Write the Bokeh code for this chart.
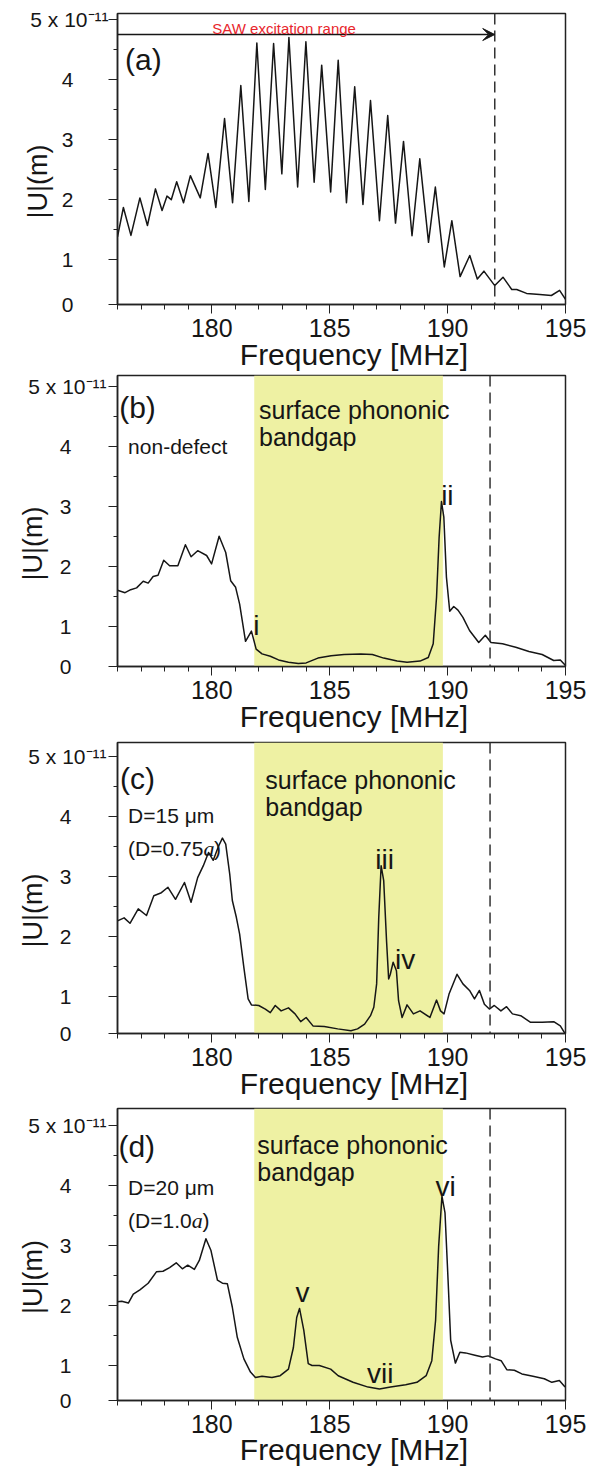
import math
from bokeh.plotting import figure
from bokeh.models import Range1d, FixedTicker, Label, Span, BoxAnnotation, Arrow, VeeHead
from bokeh.layouts import column
from bokeh.embed import file_html
from bokeh.resources import INLINE

SANS = "Liberation Sans"
SERIF = "Liberation Serif"
INK = "#161616"
FRAME = "#222222"
BAND = "#eef1a3"
RED = "#e8262d"
NB = "\u00a0"

# ---------------- data ----------------
x_start, x_end = 176, 195
x_major = [180, 185, 190, 195]
x_minor = list(range(176, 196))
y_major = [1, 2, 3, 4, 5]
y_minor = [1.5, 2.5, 3.5, 4.5]
y_top_label = "5 x 10\u207b\u00b9\u00b9"
x_title = "Frequency [MHz]"
y_title = "|U|(m)"

saw_limit_a = 192.0          # end of SAW excitation range (panel a)
saw_limit = 191.8            # dashed line, panels b-d
band_lo, band_hi = 181.8, 189.8   # surface phononic bandgap

freq_a = [176.0, 176.25, 176.57, 176.95, 177.27, 177.61, 177.89, 178.1, 178.28, 178.51,
          178.8, 179.09, 179.51, 179.84, 180.17, 180.54, 180.88, 181.23, 181.57, 181.91,
          182.27, 182.62, 182.97, 183.27, 183.64, 183.99, 184.34, 184.66, 185.04, 185.36,
          185.71, 186.06, 186.41, 186.73, 187.11, 187.46, 187.79, 188.13, 188.49, 188.82,
          189.19, 189.48, 189.86, 190.18, 190.53, 190.94, 191.26, 191.54, 192.0, 192.35,
          192.72, 192.93, 193.35, 193.91, 194.4, 194.75, 195.0]
amp_a = [1.38, 1.87, 1.405, 2.03, 1.57, 2.18, 1.82, 2.06, 2.0, 2.30,
         1.95, 2.40, 2.03, 2.77, 1.87, 3.35, 1.95, 3.90, 1.97, 4.61,
         2.17, 4.60, 2.43, 4.70, 2.21, 4.63, 2.29, 4.24, 2.13, 4.32,
         1.95, 3.88, 1.92, 3.65, 1.65, 3.40, 1.61, 2.97, 1.40, 2.68,
         1.29, 2.21, 0.88, 1.65, 0.72, 1.07, 0.68, 0.81, 0.57, 0.71,
         0.505, 0.505, 0.44, 0.42, 0.405, 0.49, 0.34]

freq_b = [176.0, 176.32, 176.56, 176.81, 177.09, 177.3, 177.51, 177.72, 177.96, 178.21,
          178.56, 178.88, 179.12, 179.4, 179.78, 179.99, 180.31, 180.59, 180.8, 181.01,
          181.18, 181.43, 181.68, 181.88, 182.13, 182.48, 182.83, 183.25, 183.67, 184.0,
          184.5, 185.06, 185.61, 186.32, 186.81, 187.29, 187.86, 188.28, 188.83, 189.18,
          189.39, 189.53, 189.64, 189.74, 189.84, 189.95, 190.09, 190.26, 190.44, 190.65,
          190.93, 191.32, 191.6, 191.84, 192.33, 192.89, 193.45, 194.01, 194.5, 194.78, 195.0]
amp_b = [1.60, 1.56, 1.61, 1.64, 1.75, 1.72, 1.83, 1.85, 2.10, 2.01,
         2.01, 2.36, 2.16, 2.26, 2.18, 2.04, 2.50, 2.23, 1.76, 1.65,
         1.37, 0.75, 0.92, 0.62, 0.54, 0.50, 0.44, 0.40, 0.38, 0.39,
         0.47, 0.51, 0.53, 0.54, 0.53, 0.47, 0.42, 0.40, 0.42, 0.48,
         0.71, 1.48, 2.48, 3.08, 2.82, 1.82, 1.25, 1.33, 1.27, 1.15,
         0.93, 0.73, 0.85, 0.73, 0.71, 0.65, 0.58, 0.53, 0.43, 0.44, 0.345]

freq_c = [176.0, 176.28, 176.53, 176.88, 177.23, 177.54, 177.86, 178.14, 178.46, 178.84,
          179.12, 179.4, 179.64, 179.86, 180.06, 180.28, 180.45, 180.59, 180.76, 180.87,
          181.04, 181.18, 181.36, 181.54, 181.68, 181.99, 182.27, 182.48, 182.69, 182.94,
          183.25, 183.53, 183.77, 184.0, 184.29, 184.77, 185.34, 185.9, 186.18, 186.48,
          186.73, 186.87, 186.99, 187.08, 187.18, 187.29, 187.41, 187.5, 187.57, 187.69,
          187.83, 187.92, 188.07, 188.28, 188.55, 188.83, 189.25, 189.53, 189.7, 189.85,
          190.06, 190.4, 190.65, 190.93, 191.14, 191.35, 191.56, 191.77, 191.98, 192.26,
          192.5, 192.75, 193.1, 193.52, 194.01, 194.5, 194.78, 195.0]
amp_c = [2.26, 2.31, 2.22, 2.46, 2.35, 2.68, 2.73, 2.82, 2.62, 2.90,
         2.57, 2.98, 3.18, 3.40, 3.27, 3.50, 3.64, 3.54, 3.04, 2.60,
         2.32, 2.04, 1.48, 0.96, 0.86, 0.85, 0.79, 0.73, 0.85, 0.76,
         0.81, 0.71, 0.58, 0.65, 0.51, 0.50, 0.46, 0.43, 0.46, 0.54,
         0.68, 0.82, 1.21, 2.32, 3.18, 2.93, 1.93, 1.29, 1.37, 1.57,
         1.43, 0.93, 0.65, 0.86, 0.71, 0.76, 0.65, 0.94, 0.76, 0.71,
         1.04, 1.37, 1.21, 1.10, 0.96, 1.10, 0.87, 0.79, 0.85, 0.76,
         0.83, 0.71, 0.68, 0.57, 0.57, 0.58, 0.51, 0.37]

freq_d = [176.0, 176.18, 176.46, 176.67, 176.95, 177.3, 177.65, 177.93, 178.21, 178.49,
          178.75, 178.98, 179.26, 179.47, 179.75, 179.96, 180.24, 180.45, 180.66, 180.87,
          181.08, 181.36, 181.64, 181.85, 182.13, 182.55, 182.9, 183.25, 183.46, 183.6,
          183.72, 183.9, 184.09, 184.25, 184.56, 185.04, 185.36, 185.99, 186.63, 187.11,
          187.58, 188.22, 188.7, 189.09, 189.33, 189.49, 189.62, 189.76, 189.89, 190.02,
          190.13, 190.33, 190.52, 190.76, 191.16, 191.48, 191.72, 192.03, 192.27, 192.51,
          192.83, 193.15, 193.62, 194.1, 194.42, 194.74, 194.98]
amp_d = [2.06, 2.07, 2.04, 2.19, 2.26, 2.37, 2.56, 2.57, 2.63, 2.71,
         2.61, 2.67, 2.60, 2.75, 3.11, 2.92, 2.42, 2.37, 2.36, 1.97,
         1.47, 1.11, 0.89, 0.80, 0.82, 0.80, 0.83, 0.94, 1.30, 1.80,
         1.95, 1.59, 1.03, 1.00, 1.00, 0.94, 0.83, 0.72, 0.64, 0.61,
         0.64, 0.68, 0.72, 0.83, 1.08, 1.75, 2.98, 3.82, 3.54, 2.42,
         1.42, 1.04, 1.22, 1.21, 1.17, 1.14, 1.16, 1.11, 1.08, 0.93,
         0.92, 0.86, 0.82, 0.78, 0.72, 0.75, 0.64]


def lab(p, x, y, text, size, align="left", baseline="alphabetic", xo=0, yo=0,
        color=INK, font=SANS, style="normal"):
    p.add_layout(Label(x=x, y=y, text=text, text_font=font, text_font_size=f"{size}px",
                       text_align=align, text_baseline=baseline, x_offset=xo, y_offset=yo,
                       text_color=color, text_font_style=style))


TOP = 13      # space above each frame
BOTTOM = 84   # reserved below each frame (tick labels + axis title)
PAGE_W, PAGE_H = 593, 1471


def panel(freq, amp, ylo, yhi, frame_h, left, frame_w, standoff, ytitle_standoff,
          xtitle_standoff, dash_at, band=True):
    p = figure(width=PAGE_W, height=TOP + frame_h + BOTTOM, x_range=Range1d(x_start, x_end),
               y_range=Range1d(ylo, yhi), output_backend="svg", toolbar_location=None,
               min_border_left=left, min_border_right=PAGE_W - left - frame_w,
               min_border_top=TOP, min_border_bottom=BOTTOM)
    p.xgrid.visible = False
    p.ygrid.visible = False
    p.outline_line_color = FRAME
    p.outline_line_width = 1.5
    p.outline_line_alpha = 1.0
    p.border_fill_color = None

    xa = p.xaxis[0]
    xa.ticker = FixedTicker(ticks=x_major, minor_ticks=x_minor)
    xa.axis_line_color = FRAME
    xa.axis_line_width = 1.5
    xa.major_tick_line_color = FRAME
    xa.minor_tick_line_color = FRAME
    xa.major_tick_out, xa.major_tick_in = 9, 0
    xa.minor_tick_out, xa.minor_tick_in = 5, 0
    xa.major_label_text_font = SANS
    xa.major_label_text_font_size = "25px"
    xa.major_label_text_color = INK
    xa.major_label_standoff = 5
    xa.axis_label = NB * 3 + x_title
    xa.axis_label_text_font = SANS
    xa.axis_label_text_font_style = "normal"
    xa.axis_label_text_font_size = "30px"
    xa.axis_label_text_color = INK
    xa.axis_label_standoff = xtitle_standoff

    ya = p.yaxis[0]
    ya.ticker = FixedTicker(ticks=[ylo] + y_major, minor_ticks=y_minor)
    ya.axis_line_color = FRAME
    ya.axis_line_width = 1.5
    ya.major_tick_line_color = FRAME
    ya.minor_tick_line_color = FRAME
    ya.major_tick_out, ya.major_tick_in = 9, 0
    ya.minor_tick_out, ya.minor_tick_in = 4, 0
    ya.major_label_text_font = SANS
    ya.major_label_text_font_size = "21px"
    ya.major_label_text_color = INK
    ya.major_label_standoff = standoff
    pad = NB * 6
    overrides = {ylo: "0" + pad}
    for v in y_major[:-1]:
        overrides[v] = str(v) + pad
    overrides[y_major[-1]] = y_top_label
    ya.major_label_overrides = overrides
    ya.axis_label = y_title + NB * 6
    ya.axis_label_text_font = SANS
    ya.axis_label_text_font_style = "normal"
    ya.axis_label_text_font_size = "27px"
    ya.axis_label_text_color = INK
    ya.axis_label_standoff = ytitle_standoff

    if band:
        p.add_layout(BoxAnnotation(left=band_lo, right=band_hi, fill_color=BAND,
                                   fill_alpha=1.0, line_color=None, level="underlay"))
    p.add_layout(Span(location=dash_at, dimension="height", line_color="#333333",
                      line_width=1.5, line_dash="11 6"))
    p.line(freq, amp, line_color=INK, line_width=1.5, line_join="round")
    return p


# ---- (a)
pa = panel(freq_a, amp_a, 0.255, 5.1, 291, 112, 453, 0, -26, -2,
           dash_at=saw_limit_a, band=False)
pa.add_layout(Arrow(end=VeeHead(size=12, fill_color=INK, line_color=INK, line_width=1),
                    x_start=x_start, y_start=4.75, x_end=saw_limit_a, y_end=4.75,
                    line_color=INK, line_width=1.5))
lab(pa, 180.02, 4.85, "SAW excitation range", 15, color=RED)
lab(pa, 176.32, 4.34, "(a)", 30)

# ---- (b)
pb = panel(freq_b, amp_b, 0.33, 5.18, 291, 117, 452, 2, -23, -2,
           dash_at=saw_limit)
lab(pb, 176.07, 4.64, "(b)", 30)
lab(pb, 182.0, 4.61, "surface phononic", 25)
lab(pb, 182.0, 4.16, "bandgap", 25)
lab(pb, 176.45, 3.99, "non-defect", 21)
lab(pb, 181.89, 1.01, "i", 28, align="center")
lab(pb, 189.99, 3.18, "ii", 28, align="center")

# ---- (c)
pc = panel(freq_c, amp_c, 0.383, 5.233, 291, 117, 452, 2, -23, -2,
           dash_at=saw_limit)
lab(pc, 176.11, 4.63, "(c)", 30)
lab(pc, 182.27, 4.61, "surface phononic", 25)
lab(pc, 182.27, 4.16, "bandgap", 25)
lab(pc, 176.45, 4.01, "D=15 \u03bcm", 21)
lab(pc, 176.45, 3.47, "(D=0.75", 21)
lab(pc, 176.45, 3.47, "a", 22, xo=75.3, font=SERIF, style="italic")
lab(pc, 176.45, 3.47, ")", 21, xo=86.0)
lab(pc, 187.33, 3.29, "iii", 28, align="center")
lab(pc, 188.20, 1.61, "iv", 28, align="center")

# ---- (d)
pd_ = panel(freq_d, amp_d, 0.417, 5.28, 292, 117, 452, 2, -23, -3,
            dash_at=saw_limit)
lab(pd_, 176.04, 4.65, "(d)", 30)
lab(pd_, 181.93, 4.67, "surface phononic", 25)
lab(pd_, 181.93, 4.22, "bandgap", 25)
lab(pd_, 176.45, 3.97, "D=20 \u03bcm", 21)
lab(pd_, 176.45, 3.42, "(D=1.0", 21)
lab(pd_, 176.45, 3.42, "a", 22, xo=63.6, font=SERIF, style="italic")
lab(pd_, 176.45, 3.42, ")", 21, xo=74.3)
lab(pd_, 183.85, 2.22, "v", 28, align="center")
lab(pd_, 189.92, 3.98, "vi", 28, align="center")
lab(pd_, 187.14, 0.87, "vii", 28, align="center")

# frame tops on the page: 13, 375, 742, 1108. The blank part of each reserved
# bottom band is overlapped by the (transparent-bordered) next figure.
top_b, top_c, top_d = 375 - TOP, 742 - TOP, 1108 - TOP
h_a, h_b, h_c, h_d = pa.height, pb.height, pc.height, pd_.height
pb.styles = {"margin-top": f"{top_b - h_a}px"}
pc.styles = {"margin-top": f"{top_c - (top_b + h_b)}px"}
pd_.styles = {"margin-top": f"{top_d - (top_c + h_c)}px",
              "margin-bottom": f"{PAGE_H - (top_d + h_d)}px"}

layout = column(pa, pb, pc, pd_)
layout.styles = {"overflow": "hidden"}
open("out.html", "w").write(file_html(layout, INLINE, "SAW spectra"))
